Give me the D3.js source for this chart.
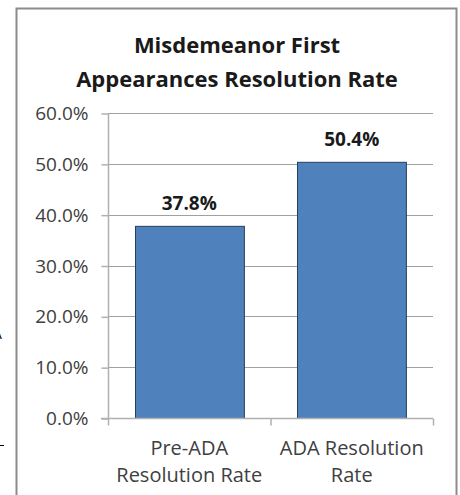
<!DOCTYPE html>
<html>
<head>
<meta charset="utf-8">
<script src="https://cdn.jsdelivr.net/npm/d3@7"></script>
<style>
  html, body { margin: 0; padding: 0; background: #fff; }
  text { font-family: "Open Sans", sans-serif; }
</style>
</head>
<body>
<div id="chart"></div>
<script>
// resolution rate bar chart

var categories = [["Pre-ADA", "Resolution Rate"], ["ADA Resolution", "Rate"]];
var values = [37.8, 50.4];
var yTicks = [0, 10, 20, 30, 40, 50, 60];
var titleLines = ["Misdemeanor First", "Appearances Resolution Rate"];

var width = 460, height = 495;
var margin = { left: 108, right: 27, top: 113, bottom: 77 };

var svg = d3.select("#chart").append("svg")
    .attr("width", width)
    .attr("height", height);

// outer frame of the chart
svg.append("rect")
    .attr("x", 16.5).attr("y", 8.5)
    .attr("width", 440).attr("height", 500)
    .attr("fill", "none")
    .attr("stroke", "#8c8c8c")
    .attr("stroke-width", 2);

// bits of neighbouring content cut off at the left edge
svg.append("text")
    .attr("x", -7).attr("y", 339)
    .attr("font-size", 14)
    .attr("fill", "#000")
    .text("A");
svg.append("line")
    .attr("x1", 0).attr("x2", 4)
    .attr("y1", 445.5).attr("y2", 445.5)
    .attr("stroke", "#000");

var x = d3.scaleBand()
    .domain(d3.range(values.length))
    .range([margin.left, width - margin.right])
    .paddingInner(0.33)
    .paddingOuter(0.165);

var y = d3.scaleLinear()
    .domain([0, 60])
    .range([height - margin.bottom, margin.top]);

// gridlines
svg.append("g")
    .selectAll("line")
    .data(yTicks.slice(1))
    .enter().append("line")
    .attr("x1", margin.left).attr("x2", width - margin.right)
    .attr("y1", function(d) { return Math.round(y(d)) + 0.5; })
    .attr("y2", function(d) { return Math.round(y(d)) + 0.5; })
    .attr("stroke", "#a0a0a0");

// y axis
var yAxis = d3.axisLeft(y)
    .tickValues(yTicks)
    .tickSize(7)
    .tickPadding(13)
    .tickFormat(function(d) { return d.toFixed(1) + "%"; });

var gy = svg.append("g")
    .attr("transform", "translate(" + (margin.left + 0.5) + ",0.5)")
    .call(yAxis);
gy.attr("font-size", null).attr("font-family", null);
gy.selectAll("path, line").attr("stroke", "#b0b0b0").attr("stroke-width", 1.5);
gy.select(".domain").attr("d", "M0," + y(60) + "V" + y(0));
gy.selectAll("text")
    .attr("font-size", 19)
    .attr("fill", "#404040");

// bars
svg.append("g")
    .selectAll("rect")
    .data(values)
    .enter().append("rect")
    .attr("x", function(d, i) { return Math.round(x(i)) + 0.5; })
    .attr("y", function(d) { return y(d) + 0.5; })
    .attr("width", x.bandwidth())
    .attr("height", function(d) { return y(0) - y(d); })
    .attr("fill", "#4f81bd")
    .attr("stroke", "#263f5e")
    .attr("stroke-width", 1);

// x axis with ticks at category boundaries
var xb = svg.append("g");
var base = Math.round(y(0)) + 0.5;
xb.append("line")
    .attr("x1", margin.left - 7).attr("x2", width - margin.right)
    .attr("y1", base).attr("y2", base)
    .attr("stroke", "#b0b0b0").attr("stroke-width", 1.5);
var bounds = [margin.left, (margin.left + width - margin.right) / 2, width - margin.right];
xb.selectAll(".tk")
    .data(bounds)
    .enter().append("line")
    .attr("class", "tk")
    .attr("x1", function(d) { return d + 0.5; })
    .attr("x2", function(d) { return d + 0.5; })
    .attr("y1", base).attr("y2", base + 7)
    .attr("stroke", "#b0b0b0").attr("stroke-width", 1.5);

// category labels
var cat = svg.append("g")
    .selectAll("text")
    .data(categories)
    .enter().append("text")
    .attr("text-anchor", "middle")
    .attr("font-size", 20)
    .attr("fill", "#404040")
    .attr("transform", function(d, i) {
        return "translate(" + (x(i) + x.bandwidth() / 2) + ",455)";
    });
cat.selectAll("tspan")
    .data(function(d) { return d; })
    .enter().append("tspan")
    .attr("x", 0)
    .attr("dy", function(d, i) { return i ? 27 : 0; })
    .text(function(d) { return d; });

// value labels
svg.append("g")
    .selectAll("text")
    .data(values)
    .enter().append("text")
    .attr("x", function(d, i) { return x(i) + x.bandwidth() / 2; })
    .attr("y", function(d) { return y(d) - 16; })
    .attr("text-anchor", "middle")
    .attr("font-size", 19)
    .attr("font-weight", "bold")
    .attr("fill", "#1a1a1a")
    .text(function(d) { return d.toFixed(1) + "%"; });

// title
svg.append("g")
    .selectAll("text")
    .data(titleLines)
    .enter().append("text")
    .attr("x", 237)
    .attr("y", function(d, i) { return 53 + i * 34; })
    .attr("text-anchor", "middle")
    .attr("font-size", 22)
    .attr("font-weight", "bold")
    .attr("fill", "#1a1a1a")
    .text(function(d) { return d; });
</script>
</body>
</html>
